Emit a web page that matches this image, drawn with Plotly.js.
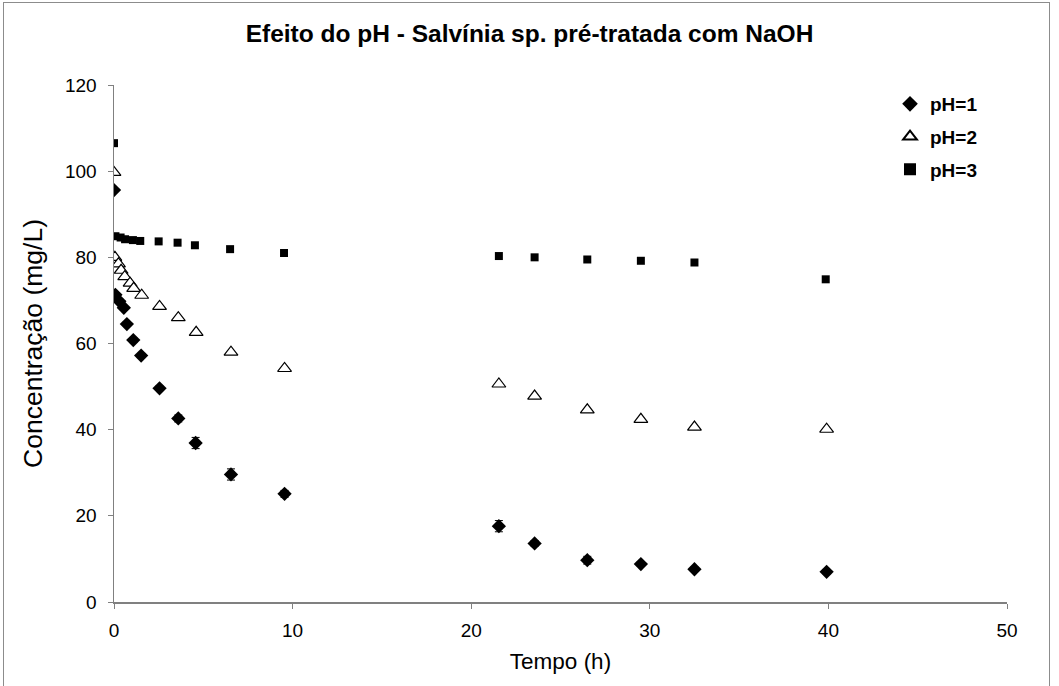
<!DOCTYPE html>
<html>
<head>
<meta charset="utf-8">
<script src="https://cdn.plot.ly/plotly-3.0.1.min.js"></script>
<style>
  html, body { margin: 0; padding: 0; background: #fff; }
  #frame { position: absolute; left: 3px; top: 2px; width: 1047px; height: 700px; border: 1px solid #8c8c8c; box-sizing: border-box; }
  #chart { position: absolute; left: 0; top: 0; width: 1059px; height: 686px; }
</style>
</head>
<body>
<div id="frame"></div>
<div id="chart"></div>
<script>
// Time (h) and concentration (mg/L)
const tempo_pH1 = [0, 0.08, 0.3, 0.55, 0.72, 1.08, 1.52, 2.55, 3.6, 4.57, 6.55, 9.55, 21.55, 23.55, 26.5, 29.5, 32.5, 39.9];
const conc_pH1  = [95.6, 71.3, 69.8, 68.3, 64.5, 60.8, 57.2, 49.6, 42.6, 36.9, 29.6, 25.1, 17.6, 13.6, 9.7, 8.8, 7.6, 7.0];
const err_pH1   = [0.5, 0.5, 0.5, 0.5, 0.5, 0.5, 0.5, 0.5, 0.8, 1.3, 1.3, 0.8, 1.3, 0.6, 0.9, 0.5, 0.5, 0.5];

const tempo_pH2 = [0, 0.05, 0.25, 0.4, 0.6, 0.9, 1.1, 1.55, 2.55, 3.6, 4.6, 6.55, 9.55, 21.55, 23.55, 26.5, 29.5, 32.5, 39.9];
const conc_pH2  = [99.7, 80.0, 78.5, 77.0, 75.5, 74.0, 72.8, 71.2, 68.6, 66.0, 62.6, 58.0, 54.2, 50.6, 47.8, 44.6, 42.4, 40.6, 40.1];

const tempo_pH3 = [0, 0.08, 0.37, 0.62, 1.06, 1.47, 2.5, 3.56, 4.53, 6.5, 9.52, 21.55, 23.55, 26.5, 29.5, 32.5, 39.85];
const conc_pH3  = [106.5, 84.9, 84.6, 84.2, 84.0, 83.8, 83.7, 83.4, 82.8, 81.9, 81.0, 80.3, 80.0, 79.5, 79.2, 78.8, 74.9];

const serie_nomes = ['pH=1', 'pH=2', 'pH=3'];
const x_ticks = [0, 10, 20, 30, 40, 50];
const y_ticks = [0, 20, 40, 60, 80, 100, 120];

const font = 'Liberation Sans, Arial, sans-serif';

const traces = [
  {
    x: tempo_pH1, y: conc_pH1, name: serie_nomes[0], mode: 'markers', type: 'scatter',
    legendgroup: 'a',
    marker: { symbol: 'diamond', size: 11, color: '#000000' },
    error_y: { type: 'data', array: err_pH1, visible: true, color: '#000000', thickness: 1, width: 4 }
  },
  {
    x: tempo_pH2, y: conc_pH2, name: serie_nomes[1], mode: 'markers', type: 'scatter',
    legendgroup: 'b',
    marker: { symbol: 'triangle-up', size: 12, color: '#ffffff', line: { color: '#000000', width: 1.2 } }
  },
  {
    x: tempo_pH3, y: conc_pH3, name: serie_nomes[2], mode: 'markers', type: 'scatter',
    legendgroup: 'c',
    marker: { symbol: 'square', size: 8, color: '#000000' }
  }
];

const layout = {
  width: 1059, height: 686,
  paper_bgcolor: 'rgba(0,0,0,0)', plot_bgcolor: 'rgba(0,0,0,0)',
  margin: { l: 114, r: 52, t: 85, b: 84 },
  font: { family: font, color: '#000000' },
  title: {
    text: '<b>Efeito do pH - Salvínia sp. pré-tratada com NaOH</b>',
    font: { family: font, size: 24.5, color: '#000000' },
    x: 0.5, xref: 'container', xanchor: 'center', y: 0.951, yref: 'container', yanchor: 'middle'
  },
  xaxis: {
    range: [0, 50], tickvals: x_ticks, ticktext: x_ticks.map(String),
    showgrid: false, zeroline: false,
    showline: true, linecolor: '#808080', linewidth: 1.5,
    ticks: 'outside', ticklen: 5, tickcolor: '#808080', tickwidth: 1,
    ticklabelstandoff: 6,
    tickfont: { family: font, size: 19 },
    title: { text: 'Tempo (h)', font: { family: font, size: 22.5 }, standoff: 13 }
  },
  yaxis: {
    range: [0, 120], tickvals: y_ticks, ticktext: y_ticks.map(String),
    showgrid: false, zeroline: false,
    showline: true, linecolor: '#808080', linewidth: 1.5,
    ticks: 'outside', ticklen: 5, tickcolor: '#808080', tickwidth: 1,
    ticklabelstandoff: 7,
    tickfont: { family: font, size: 19 },
    title: { text: 'Concentração (mg/L)', font: { family: font, size: 26.5 }, standoff: 14 }
  },
  showlegend: true,
  legend: {
    x: 0.869, y: 1.0, xanchor: 'left', yanchor: 'top',
    font: { family: font, size: 19, color: '#000000', weight: 'bold' },
    bgcolor: 'rgba(0,0,0,0)', borderwidth: 0,
    tracegroupgap: 5, itemsizing: 'constant'
  }
};

Plotly.newPlot('chart', traces, layout, { displayModeBar: false, staticPlot: true });
</script>
</body>
</html>
